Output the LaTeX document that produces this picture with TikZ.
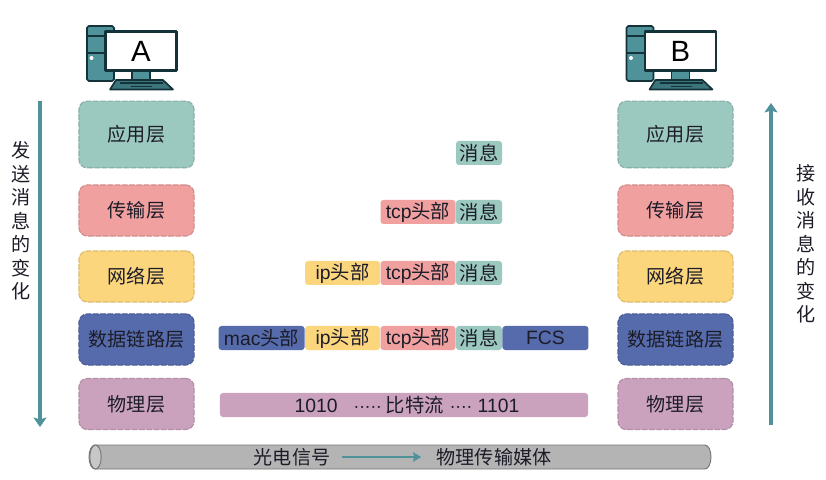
\documentclass[tikz,border=0pt]{standalone}
\usepackage{fontspec}
\setmainfont{Liberation Sans}
\newfontfamily\cjk{Noto Sans CJK SC}
\usetikzlibrary{shapes,arrows,arrows.meta,positioning,calc}
\newcommand{\zh}[1]{{\cjk #1}}
\definecolor{appcol}{HTML}{9BC8BF}
\definecolor{tcpcol}{HTML}{EFA09F}
\definecolor{ipcol}{HTML}{FBD67C}
\definecolor{maccol}{HTML}{566BAB}
\definecolor{phycol}{HTML}{CBA2BD}
\definecolor{tubecol}{HTML}{B4B4B4}
\definecolor{tealcol}{HTML}{4F929A}
\definecolor{inkcol}{HTML}{14323A}
\definecolor{txtcol}{HTML}{1C1C28}
\tikzset{
layer/.style = {draw=#1!88!black, fill=#1, rectangle, rounded corners=7pt, dash pattern=on 5pt off 1.2pt, line width=1pt, minimum width=3.45cm, inner sep=0pt, text=txtcol, font=\fontsize{16.3}{18}\selectfont},
cell/.style = {fill=#1, rectangle, rounded corners=2.5pt, minimum height=.72cm, inner sep=0pt, text=txtcol, font=\fontsize{16.5}{18}\selectfont},
side/.style = {align=center, text=txtcol, inner sep=0pt, font=\fontsize{16.3}{20}\selectfont},
flow/.style = {draw=tealcol, line width=4pt, -{Stealth[length=8pt,width=11pt,inset=1.5pt]}},
}
% one computer, #1 name, #2 letter, #3 shift
\newcommand{\computer}[3]{
  \begin{scope}[shift={(#3,0)}, draw=inkcol, line width=1.4pt, line join=round]
    \draw [fill=tealcol, rounded corners=1.5pt] (87,26) rectangle (114,81);
    \draw (87,36) -- (105,36);
    \draw (87,53) -- (105,53);
    \fill [white] (91.5,58) circle (2);
    \draw [fill=tealcol] (132,71) rectangle (150,80);
    \draw [fill=tealcol!70!inkcol] (110,89.5) -- (173,89.5) -- (163,80) -- (116,80) -- cycle;
    \draw [line width=1.6pt] (120,83) -- (163,83);
    \draw [line width=1.6pt] (131,86.5) -- (152,86.5);
    \node [draw=inkcol, fill=white, line width=2pt, rectangle, minimum width=2.12cm, minimum height=1.16cm, inner sep=0pt, font=\fontsize{25}{28}\selectfont] (#1) at (141,51) {#2};
  \end{scope}
}
\begin{document}
\begin{tikzpicture}[x=.03cm, y=-.03cm, >=latex']
      \useasboundingbox (0,0) rectangle (826,480);
      \computer{pca}{A}{0}
      \computer{pcb}{B}{539.5}
      % layers of A
      \node [layer=appcol, minimum height=2.0cm] (appa) at (136.5,134.5) {\zh{应用层}};
      \node [layer=tcpcol, minimum height=1.53cm] (tcpa) at (136.5,210.5) {\zh{传输层}};
      \node [layer=ipcol, minimum height=1.53cm] (ipa) at (136.5,276.5) {\zh{网络层}};
      \node [layer=maccol, minimum height=1.53cm] (maca) at (136.5,339.5) {\zh{数据链路层}};
      \node [layer=phycol, minimum height=1.53cm] (phya) at (136.5,404) {\zh{物理层}};
      % layers of B
      \node [layer=appcol, minimum height=2.0cm] (appb) at (675.5,134.5) {\zh{应用层}};
      \node [layer=tcpcol, minimum height=1.53cm] (tcpb) at (675.5,210.5) {\zh{传输层}};
      \node [layer=ipcol, minimum height=1.53cm] (ipb) at (675.5,276.5) {\zh{网络层}};
      \node [layer=maccol, minimum height=1.53cm] (macb) at (675.5,339.5) {\zh{数据链路层}};
      \node [layer=phycol, minimum height=1.53cm] (phyb) at (675.5,404) {\zh{物理层}};
      % packets
      \node [cell=appcol, minimum width=1.38cm] (msg1) at (479,153) {\zh{消息}};
      \node [cell=appcol, minimum width=1.38cm] (msg2) at (479,212) {\zh{消息}};
      \node [cell=tcpcol, minimum width=2.25cm, left=0pt of msg2] (tcp2) {tcp\zh{头部}};
      \node [cell=appcol, minimum width=1.38cm] (msg3) at (479,273) {\zh{消息}};
      \node [cell=tcpcol, minimum width=2.25cm, left=0pt of msg3] (tcp3) {tcp\zh{头部}};
      \node [cell=ipcol, minimum width=2.25cm, left=0pt of tcp3] (ip3) {ip\zh{头部}};
      \node [cell=appcol, minimum width=1.38cm] (msg4) at (479,338) {\zh{消息}};
      \node [cell=tcpcol, minimum width=2.25cm, left=0pt of msg4] (tcp4) {tcp\zh{头部}};
      \node [cell=ipcol, minimum width=2.25cm, left=0pt of tcp4] (ip4) {ip\zh{头部}};
      \node [cell=maccol, minimum width=2.58cm, left=0pt of ip4] (mac4) {mac\zh{头部}};
      \node [cell=maccol, minimum width=2.58cm, right=0pt of msg4] (fcs4) {FCS};
      \node [cell=phycol, minimum width=11.04cm] (bits) at (404,405) {\hspace{.18cm}1010\hspace{.48cm}${\cdot}{\cdot}{\cdot}{\cdot}{\cdot}$\hspace{.12cm}\zh{比特流}\hspace{.18cm}${\cdot}{\cdot}{\cdot}{\cdot}$\hspace{.16cm}1101};
      % medium
      \draw [draw=black!55, fill=tubecol, line width=.8pt] (95,445) -- (705,445) arc (-90:90:6 and 12) -- (95,469) arc (90:270:6 and 12) -- cycle;
      \draw [draw=black!55, fill=black!22, line width=.8pt] (95.5,457) ellipse (5.7 and 12);
      \node [text=txtcol, inner sep=0pt, font=\fontsize{16.3}{18}\selectfont] (sig) at (292,457) {\zh{光电信号}};
      \node [text=txtcol, inner sep=0pt, font=\fontsize{16.3}{18}\selectfont] (media) at (494,457) {\zh{物理传输媒体}};
      \draw [-{Stealth[length=7pt,width=8pt,inset=1pt]}, draw=tealcol, line width=2.2pt, shorten <=10pt, shorten >=13pt] (sig) -- (media);
      % direction of travel
      \coordinate (sendtop) at (40,101);
      \coordinate (sendend) at (40,427);
      \coordinate (recvtop) at (771,103);
      \coordinate (recvend) at (771,425);
      \draw [flow] (sendtop) -- (sendend);
      \draw [flow] (recvend) -- (recvtop);
      \node [side] (sendtxt) at (21,221) {\zh{发}\\\zh{送}\\\zh{消}\\\zh{息}\\\zh{的}\\\zh{变}\\\zh{化}};
      \node [side] (recvtxt) at (806,244) {\zh{接}\\\zh{收}\\\zh{消}\\\zh{息}\\\zh{的}\\\zh{变}\\\zh{化}};
\end{tikzpicture}
\end{document}
